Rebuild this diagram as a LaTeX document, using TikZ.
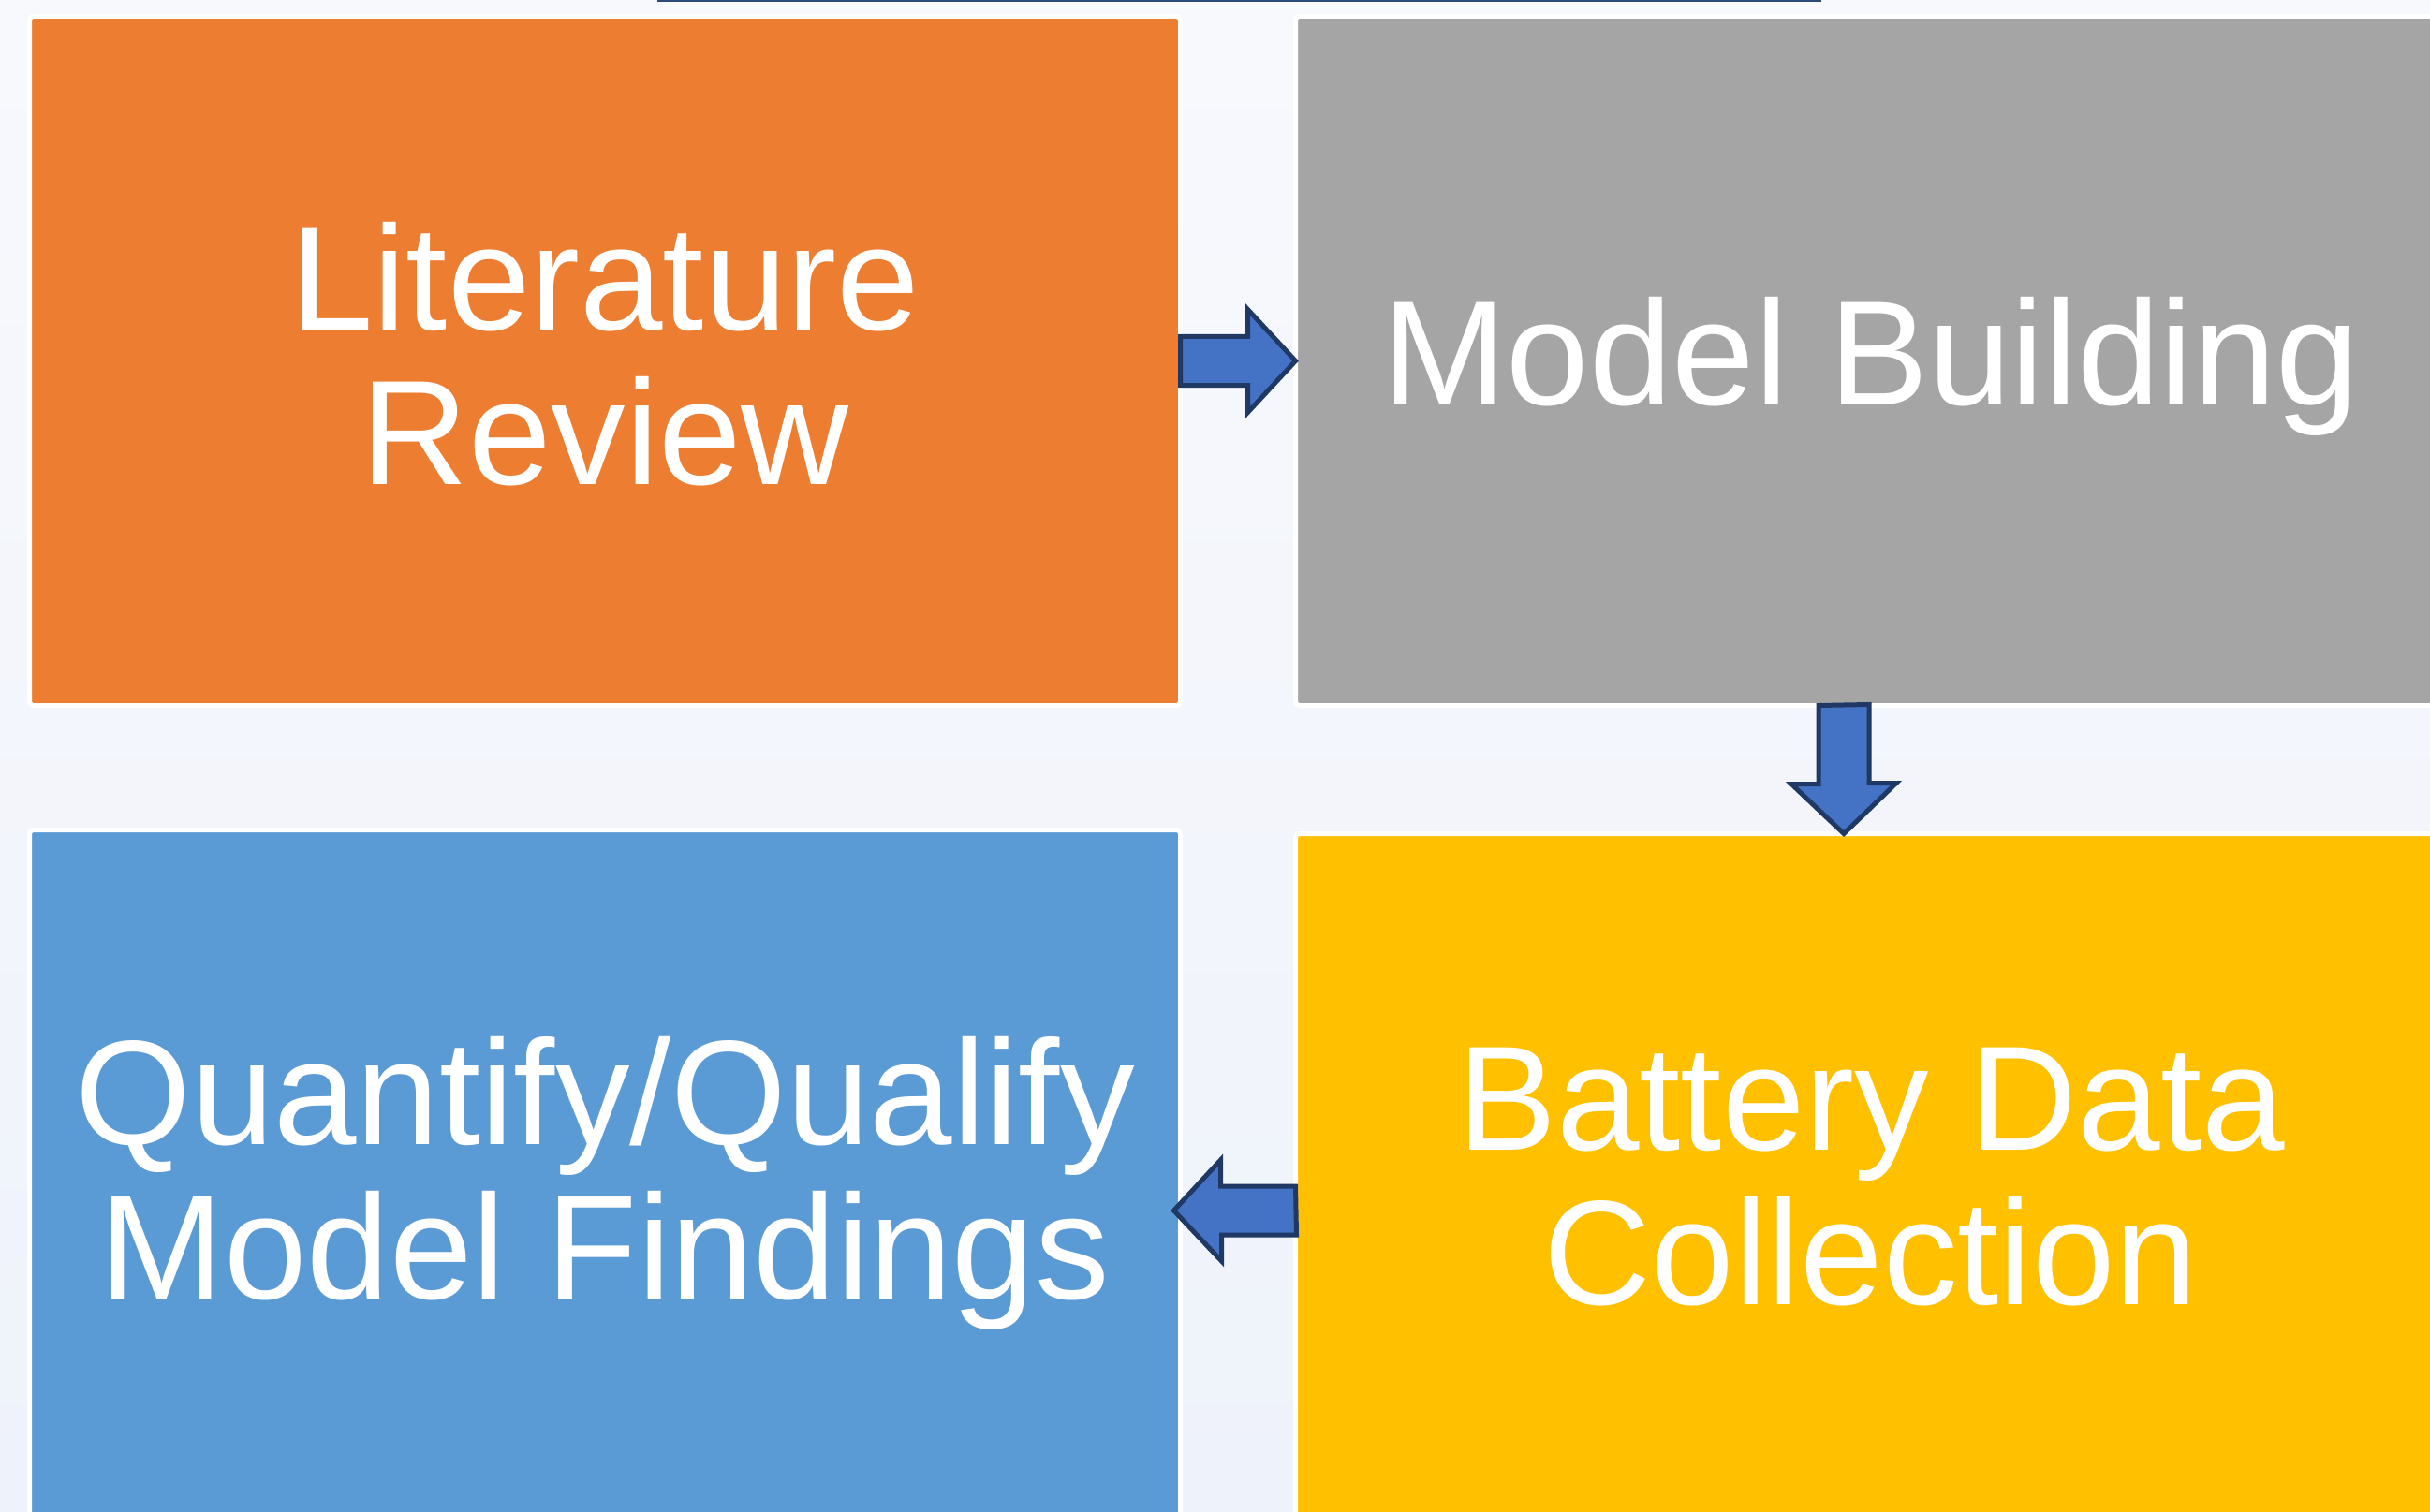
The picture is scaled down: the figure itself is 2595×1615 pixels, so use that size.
\documentclass[tikz,border=0pt]{standalone}
\usepackage{fontspec}
\setmainfont{Liberation Sans}
\usetikzlibrary{calc}

\definecolor{bgtop}{HTML}{F8F9FD}
\definecolor{bgbottom}{HTML}{EEF2FA}
\definecolor{litorange}{HTML}{ED7D31}
\definecolor{modelgray}{HTML}{A5A5A5}
\definecolor{datayellow}{HTML}{FFC000}
\definecolor{findblue}{HTML}{5B9BD5}
\definecolor{arrowfill}{HTML}{4472C4}
\definecolor{arrowline}{HTML}{1F3864}
\definecolor{ruleblue}{HTML}{2E4A7D}

\tikzset{
  stepbox/.style={draw=white, line width=2.5pt, rounded corners=2pt,
    inner sep=0pt, outer sep=0pt, minimum width=614.5pt, minimum height=368pt,
    text=white, align=center, font=\fontsize{79.5}{82.5}\selectfont},
  flowarrow/.style={draw=arrowline, fill=arrowfill, line width=2.5pt, line join=miter}
}

\begin{document}
\begin{tikzpicture}[x=0.5pt, y=-0.5pt]
% page and background
\useasboundingbox (0,0) rectangle (2595,1615);
\shade[top color=bgtop, bottom color=bgbottom] (0,0) rectangle (2595,1615);
\draw[ruleblue, line width=1.5pt] (702,0.5) -- (1945,0.5);

% the four steps
\node[stepbox, fill=litorange, text depth=8pt] (lit) at (646,385.5) {Literature\\Review};
\node[stepbox, fill=modelgray, text depth=10.5pt] (model) at (1998,385.5) {Model Building};
\node[stepbox, fill=datayellow, text depth=2.5pt] (battery) at (1998,1258.5) {Battery Data\\Collection};
\node[stepbox, fill=findblue, text depth=7.5pt] (findings) at (646,1254.5) {Quantify/Qualify\\Model Findings};

% block arrows between the steps
\draw[flowarrow] (lit.east) ++(0,-26) -- ++(72,0) -- ++(0,-29) -- (model.west)
  -- ++(-51,55) -- ++(0,-29) -- ++(-72,0) -- cycle;

\coordinate (d0) at ($(model.south)+(-29,0)$);
\coordinate (d1) at ($(battery.north)+(-29,0)$);
\draw[flowarrow] (d0) ++(-27,0) -- ++(0,84) -- ++(-29,0) -- (d1)
  -- ++(56,-54) -- ++(-29,0) -- ++(0,-84) -- cycle;

\coordinate (l0) at ($(battery.west)+(0,34.5)$);
\coordinate (l1) at ($(findings.east)+(-7,38.5)$);
\draw[flowarrow] (l0) ++(0,-26) -- ++(-80,0) -- ++(0,-28) -- (l1)
  -- ++(51,54) -- ++(0,-28) -- ++(80,0) -- cycle;
\end{tikzpicture}
\end{document}
